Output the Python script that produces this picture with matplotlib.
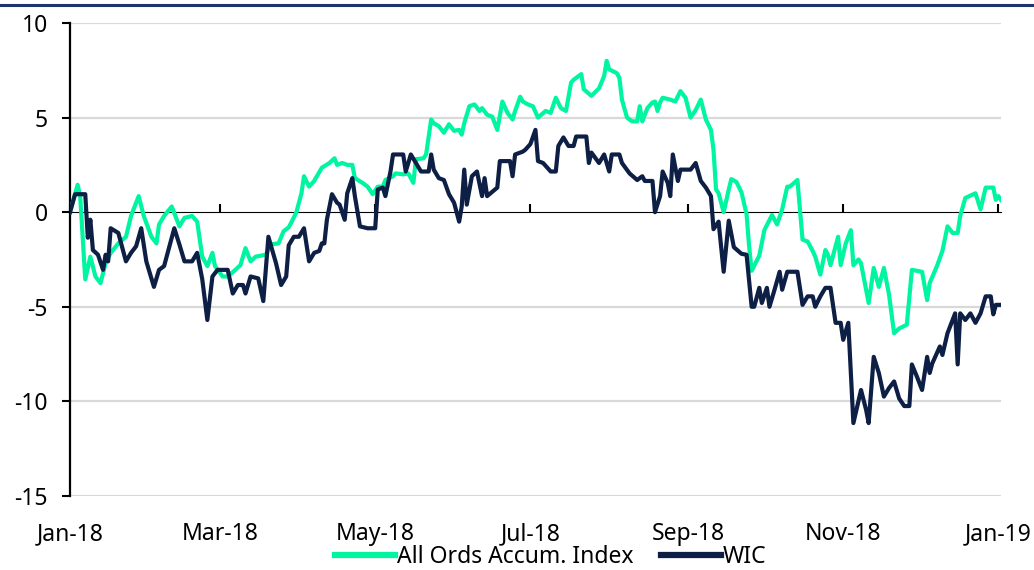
import matplotlib
matplotlib.use("Agg")
import matplotlib.pyplot as plt
import matplotlib.dates as mdates
from matplotlib.lines import Line2D
import pandas as pd

plt.rcParams['font.family'] = ['Noto Sans', 'DejaVu Sans']

# days since 1 Jan 2018 and % values
aoi_days = [0, 3, 4, 6, 8, 10, 12, 14, 16, 19, 22, 24, 27, 29, 32, 34, 35, 37, 40, 43,
            45, 48, 50, 52, 54, 56, 57, 60, 62, 65, 67, 69, 71, 73, 77, 79, 82, 84, 86, 87,
            89, 91, 92, 94, 96, 99, 102, 104, 105, 107, 109, 111, 112, 115, 117, 119, 121, 123, 124, 127,
            128, 131, 133, 135, 136, 139, 140, 142, 143, 145, 147, 149, 151, 153, 154, 155, 157, 159, 161, 162,
            164, 166, 168, 170, 172, 174, 175, 177, 178, 180, 182, 184, 187, 189, 191, 193, 195, 197, 198, 201,
            202, 205, 208, 210, 211, 212, 215, 216, 217, 219, 221, 223, 224, 225, 227, 229, 230, 231, 232, 233,
            236, 238, 240, 242, 244, 246, 248, 250, 252, 253, 254, 255, 257, 259, 260, 262, 264, 266, 267, 268,
            271, 273, 276, 278, 280, 282, 283, 286, 288, 290, 292, 293, 295, 297, 298, 299, 301, 302, 303, 305,
            307, 308, 310, 311, 314, 316, 318, 320, 322, 324, 326, 329, 331, 335, 337, 338, 341, 343, 345, 347,
            349, 350, 352, 356, 358, 360, 363, 364, 365, 366]
aoi_vals = [0.0, 1.45, 0.85, -3.55, -2.35, -3.4, -3.75, -2.7, -2.15, -1.65, -1.3, -0.2, 0.85, -0.2, -1.3, -1.65, -0.65, -0.2, 0.3, -0.75,
            -0.3, -0.2, -0.5, -2.35, -2.85, -2.15, -2.85, -3.4, -3.4, -3.05, -2.8, -1.9, -2.6, -2.35, -2.25, -1.7, -1.65, -1.0, -0.8, -0.55,
            0.0, 1.0, 1.9, 1.35, 1.65, 2.35, 2.6, 2.85, 2.5, 2.6, 2.5, 2.5, 1.8, 1.55, 1.35, 0.95, 1.35, 1.35, 1.7, 1.9,
            2.05, 2.0, 2.05, 1.55, 2.8, 2.85, 3.05, 4.9, 4.7, 4.55, 4.2, 4.65, 4.3, 4.35, 4.1, 4.7, 5.6, 5.7, 5.35, 5.5,
            5.15, 5.05, 4.35, 5.85, 5.25, 4.9, 5.35, 6.1, 5.85, 5.7, 5.6, 5.0, 5.35, 5.25, 6.05, 5.5, 5.35, 6.85, 7.0, 7.3,
            6.5, 6.15, 6.55, 7.2, 8.0, 7.55, 7.35, 7.1, 5.95, 5.0, 4.8, 4.8, 5.6, 4.8, 5.5, 5.8, 5.85, 5.35, 5.8, 6.05,
            5.95, 5.85, 6.4, 6.05, 5.0, 5.4, 5.95, 4.9, 4.35, 3.3, 1.2, 1.0, 0.0, 1.2, 1.75, 1.6, 1.05, -0.1, -1.8, -3.1,
            -2.3, -0.95, -0.15, -0.65, 0.15, 1.35, 1.35, 1.7, -1.45, -1.55, -2.05, -2.35, -3.3, -2.0, -2.25, -2.8, -1.8, -1.3, -2.8, -1.65,
            -0.95, -2.8, -2.5, -2.7, -4.8, -2.95, -3.95, -2.95, -4.35, -6.4, -6.15, -5.95, -3.05, -3.15, -4.65, -3.75, -2.8, -2.05, -0.75, -1.1,
            -1.1, -0.2, 0.75, 1.0, 0.15, 1.3, 1.3, 0.65, 0.85, 0.65]

wic_days = [0, 2, 6, 7, 8, 9, 11, 13, 14, 15, 16, 19, 22, 24, 26, 28, 30, 33, 35, 37,
            41, 43, 45, 48, 50, 52, 54, 56, 58, 62, 64, 66, 68, 69, 71, 74, 76, 78, 81, 83,
            85, 86, 88, 90, 92, 94, 96, 98, 99, 100, 101, 103, 105, 106, 108, 109, 111, 112, 114, 117,
            120, 121, 123, 124, 126, 127, 131, 132, 134, 136, 138, 141, 142, 143, 145, 147, 149, 151, 153, 154,
            155, 156, 158, 160, 162, 163, 164, 168, 169, 173, 174, 175, 178, 179, 181, 183, 184, 186, 189, 191,
            192, 194, 196, 198, 199, 203, 204, 205, 208, 210, 212, 213, 216, 217, 220, 223, 225, 226, 229, 230,
            232, 233, 235, 236, 237, 239, 240, 244, 246, 248, 250, 252, 253, 255, 257, 259, 261, 264, 266, 268,
            269, 271, 272, 274, 275, 277, 279, 280, 282, 286, 288, 290, 292, 293, 295, 297, 299, 301, 303, 304,
            306, 308, 311, 313, 314, 316, 318, 320, 322, 324, 326, 328, 330, 331, 333, 335, 337, 338, 339, 342,
            343, 345, 347, 348, 349, 350, 352, 354, 356, 358, 360, 362, 363, 364, 366]
wic_vals = [0.0, 0.95, 0.95, -1.35, -0.4, -2.0, -2.25, -3.05, -2.25, -2.6, -0.85, -1.1, -2.6, -2.15, -1.8, -0.85, -2.6, -3.95, -3.05, -2.85,
            -0.85, -1.7, -2.6, -2.6, -2.15, -3.55, -5.7, -3.4, -3.05, -3.05, -4.3, -3.85, -3.85, -4.3, -3.4, -3.5, -4.7, -1.3, -2.7, -3.85,
            -3.4, -1.75, -1.3, -1.3, -0.85, -2.6, -2.15, -2.05, -1.65, -1.65, -0.4, 0.95, 0.5, 0.4, -0.4, 1.0, 1.8, 0.85, -0.75, -0.85,
            -0.85, 1.2, 1.3, 0.85, 2.15, 3.05, 3.05, 2.15, 3.05, 2.6, 2.15, 2.15, 3.05, 2.25, 1.8, 1.7, 0.95, 0.5, -0.5, 0.3,
            2.25, 0.4, 1.9, 2.15, 0.85, 1.8, 0.85, 1.3, 2.7, 2.7, 1.9, 3.05, 3.2, 3.3, 3.6, 4.35, 2.7, 2.6, 2.15, 2.15,
            3.5, 3.95, 3.5, 3.5, 4.0, 4.0, 2.6, 3.15, 2.6, 3.05, 2.15, 3.05, 3.05, 2.6, 2.05, 1.7, 1.9, 1.65, 1.65, 0.0,
            0.85, 2.15, 1.55, 0.85, 3.05, 1.65, 2.25, 2.25, 2.6, 1.65, 1.3, 0.85, -0.9, -0.5, -3.15, -0.45, -1.85, -2.2, -2.25, -5.0,
            -5.0, -4.0, -4.8, -4.0, -5.0, -4.1, -3.15, -4.1, -3.15, -3.15, -4.9, -4.45, -4.45, -5.0, -4.45, -4.0, -4.0, -5.85, -5.85, -6.75,
            -5.85, -11.15, -9.4, -10.45, -11.15, -7.65, -8.5, -9.75, -9.3, -8.95, -9.85, -10.25, -10.25, -8.05, -8.7, -9.4, -7.65, -8.5, -8.0, -7.1,
            -7.55, -6.4, -5.7, -5.35, -8.05, -5.35, -5.7, -5.35, -5.85, -5.35, -4.45, -4.45, -5.4, -4.9, -4.9]

series_names = ['All Ords Accum. Index', 'WIC']
series_colors = ['#00F5A0', '#0E1F45']
y_ticks = [10, 5, 0, -5, -10, -15]

start = pd.Timestamp('2018-01-01')
aoi_dates = start + pd.to_timedelta(aoi_days, unit='D')
wic_dates = start + pd.to_timedelta(wic_days, unit='D')

fig = plt.figure(figsize=(10.34, 5.70), dpi=100)
ax = fig.add_axes([0.0677, 0.13, 0.9003, 0.8296])

ax.plot(aoi_dates, aoi_vals, color=series_colors[0], lw=3.0, label=series_names[0],
        solid_joinstyle='round', zorder=3)
ax.plot(wic_dates, wic_vals, color=series_colors[1], lw=3.0, label=series_names[1],
        solid_joinstyle='round', zorder=4)

ax.set_ylim(-15, 10)
ax.set_yticks(y_ticks)
ax.set_yticklabels([str(v) for v in y_ticks])
ax.set_xlim(start, start + pd.Timedelta(days=366))

# gridlines (skip zero, drawn by the axis line)
for v in y_ticks:
    if v != 0:
        ax.axhline(v, color='#D9D9D9', lw=1.6, zorder=1)

ax.xaxis.set_major_locator(mdates.MonthLocator(bymonth=[1, 3, 5, 7, 9, 11]))
ax.xaxis.set_major_formatter(mdates.DateFormatter('%b-%y'))
ax.tick_params(axis='x', length=0, labelsize=16.5, pad=19)
ax.tick_params(axis='y', length=6, width=1.5, direction='out', labelsize=16.5, pad=10)

for s in ['top', 'right', 'bottom']:
    ax.spines[s].set_visible(False)
ax.spines['left'].set_linewidth(1.6)
ax.spines['left'].set_color('black')

# horizontal axis crossing at zero with tick marks
sec = ax.secondary_xaxis(0.6)
sec.xaxis.set_major_locator(mdates.MonthLocator(bymonth=[1, 3, 5, 7, 9, 11]))
sec.set_xticklabels([])
sec.tick_params(axis='x', length=6, width=1.5, direction='out')
sec.spines['bottom'].set_linewidth(1.8)
sec.spines['bottom'].set_color('black')
sec.spines['bottom'].set_zorder(2)

fig.legend(loc='lower center', bbox_to_anchor=(0.533, -0.035), ncol=2, frameon=False,
           fontsize=16.5, handlelength=2.6, handletextpad=0.1, columnspacing=1.2)
for line in fig.legends[0].get_lines():
    line.set_linewidth(4.5)

# banner rule along the top edge
fig.add_artist(Line2D([0.0, 0.998], [0.991, 0.991], color='#1F3468', lw=2.2))

fig.savefig('out.png', dpi=100)
